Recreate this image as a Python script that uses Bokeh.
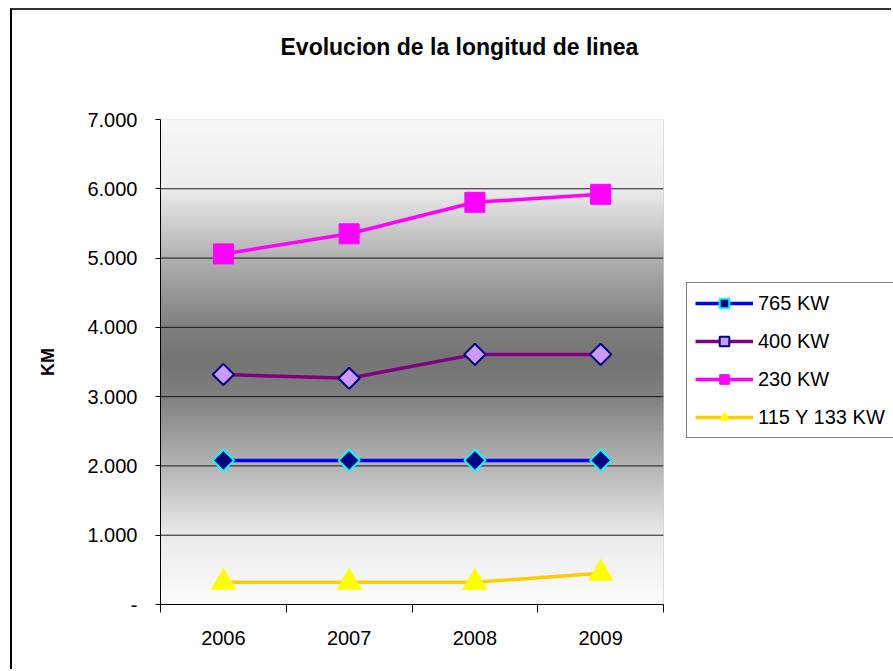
import numpy as np
from bokeh.plotting import figure
from bokeh.models import Range1d, FixedTicker, Legend, LegendItem, Title, BoxAnnotation
from bokeh.embed import file_html
from bokeh.resources import INLINE

# ---- data ----
years = ["2006", "2007", "2008", "2009"]
kw765 = [2080, 2080, 2080, 2080]
kw400 = [3320, 3265, 3610, 3610]
kw230 = [5060, 5350, 5805, 5920]
kw115_133 = [320, 320, 320, 450]
series_names = ["765 KW", "400 KW", "230 KW", "115 Y 133 KW"]
y_ticks = [0, 1000, 2000, 3000, 4000, 5000, 6000, 7000]
y_tick_labels = ["-", "1.000", "2.000", "3.000", "4.000", "5.000", "6.000", "7.000"]
title_text = "Evolucion de la longitud de linea"

# background gradient stops (value -> gray level)
grad_pos = [0, 1000, 2000, 3000, 3500, 4000, 5000, 6000, 7000]
grad_gray = [252, 234, 180, 128, 116, 126, 176, 236, 248]

FONT = "Liberation Sans"
n = len(years)
ymax = y_ticks[-1]
xs = np.arange(n) + 0.5

# layout (canvas pixels)
W, H = 881, 661
LEFT, TOP, BOTTOM = 148, 109, 67
AREA_W = 503                      # width of the gray plotting area
FRAME_W = W - LEFT                # frame runs to the right edge (room for legend)

p = figure(width=W, height=H,
           x_range=Range1d(0, n * FRAME_W / AREA_W),
           y_range=Range1d(0, ymax),
           output_backend="svg", toolbar_location=None,
           min_border_left=LEFT, min_border_right=0,
           min_border_top=TOP, min_border_bottom=BOTTOM)
p.styles = {"margin-left": "10px", "margin-top": "8px",
            "border-left": "2px solid #000000", "border-top": "2px solid #333333"}

p.background_fill_color = "white"
p.border_fill_color = "white"
p.outline_line_color = None

# title: spacer (closest to frame) then the real title
p.add_layout(Title(text=" ", text_font_size="10px", standoff=47), "above")
p.add_layout(Title(text=title_text, text_font=FONT, text_font_size="23px",
                   text_font_style="bold", text_color="black",
                   align="left", offset=120, standoff=0), "above")

# gradient background of the plotting area
edges = np.linspace(0, ymax, 201)
mids = (edges[:-1] + edges[1:]) / 2
g = np.interp(mids, grad_pos, grad_gray).round().astype(int)
cols = ["#%02x%02x%02x" % (v, v, v) for v in g]
step = edges[1] - edges[0]
tops = np.minimum(edges[1:] + step * 0.3, ymax)
p.quad(left=0, right=n, bottom=edges[:-1], top=tops,
       fill_color=cols, line_color=None, level="image")

# horizontal gridlines only across the plotting area
inner = y_ticks[1:-1]
p.segment(x0=[0] * len(inner), x1=[n] * len(inner), y0=inner, y1=inner,
          line_color="#1a1a1a", line_width=1, level="underlay")

# plot-area border
p.add_layout(BoxAnnotation(left=0, right=n, bottom=0, top=ymax,
                           fill_color=None, fill_alpha=0, line_color="#a0a0a0",
                           line_width=1, level="underlay"))

# axes
p.xgrid.visible = False
p.ygrid.visible = False

p.xaxis.bounds = (0, n)
p.xaxis.ticker = FixedTicker(ticks=list(xs), minor_ticks=list(range(n + 1)))
p.xaxis.major_label_overrides = {float(x): yr for x, yr in zip(xs, years)}
p.xaxis.major_tick_in = 0
p.xaxis.major_tick_out = 0
p.xaxis.minor_tick_in = 0
p.xaxis.minor_tick_out = 8
p.xaxis.minor_tick_line_color = "black"
p.xaxis.axis_line_color = "black"
p.xaxis.major_label_standoff = 18

p.yaxis.ticker = FixedTicker(ticks=y_ticks)
p.yaxis.major_label_overrides = {t: l for t, l in zip(y_ticks, y_tick_labels)}
p.yaxis.major_tick_in = 0
p.yaxis.major_tick_out = 5
p.yaxis.minor_tick_line_color = None
p.yaxis.axis_line_color = "black"
p.yaxis.major_tick_line_color = "black"
p.yaxis.major_label_standoff = 18
p.yaxis.axis_label = "KM"
p.yaxis.axis_label_text_font = FONT
p.yaxis.axis_label_text_font_size = "18px"
p.yaxis.axis_label_text_font_style = "bold"
p.yaxis.axis_label_text_color = "black"
p.yaxis.axis_label_standoff = 26

for ax in (p.xaxis[0], p.yaxis[0]):
    ax.major_label_text_font = FONT
    ax.major_label_text_font_size = "20px"
    ax.major_label_text_color = "black"

# series
specs = [
    (kw765, "#0000ff", dict(marker="square", angle=np.pi / 4, size=15,
                             fill_color="#000080", line_color="#00ffff", line_width=2)),
    (kw400, "#800080", dict(marker="square", angle=np.pi / 4, size=15,
                             fill_color="#cc99ff", line_color="#000080", line_width=2)),
    (kw230, "#ff00ff", dict(marker="square", size=20,
                             fill_color="#ff00ff", line_color="#ff00ff", line_width=1)),
    (kw115_133, "#ffcc00", dict(marker="triangle", size=24,
                                 fill_color="#ffff00", line_color="#ffff00", line_width=1)),
]
items = []
for name, (vals, lc, mk) in zip(series_names, specs):
    lr = p.line(xs, vals, line_color=lc, line_width=3.5)
    sr = p.scatter(xs, vals, **mk)
    items.append(LegendItem(label=name, renderers=[lr, sr]))

legend = Legend(items=items, location=(AREA_W + 23, 166))
legend.glyph_width = 58
legend.glyph_height = 24
legend.label_height = 24
legend.spacing = 14
legend.padding = 8
legend.margin = 0
legend.label_standoff = 5
legend.label_text_font = FONT
legend.label_text_font_size = "20px"
legend.label_text_color = "black"
legend.border_line_color = "black"
legend.border_line_width = 1
legend.background_fill_color = "white"
legend.background_fill_alpha = 1
p.add_layout(legend)

open("out.html", "w").write(file_html(p, INLINE))
